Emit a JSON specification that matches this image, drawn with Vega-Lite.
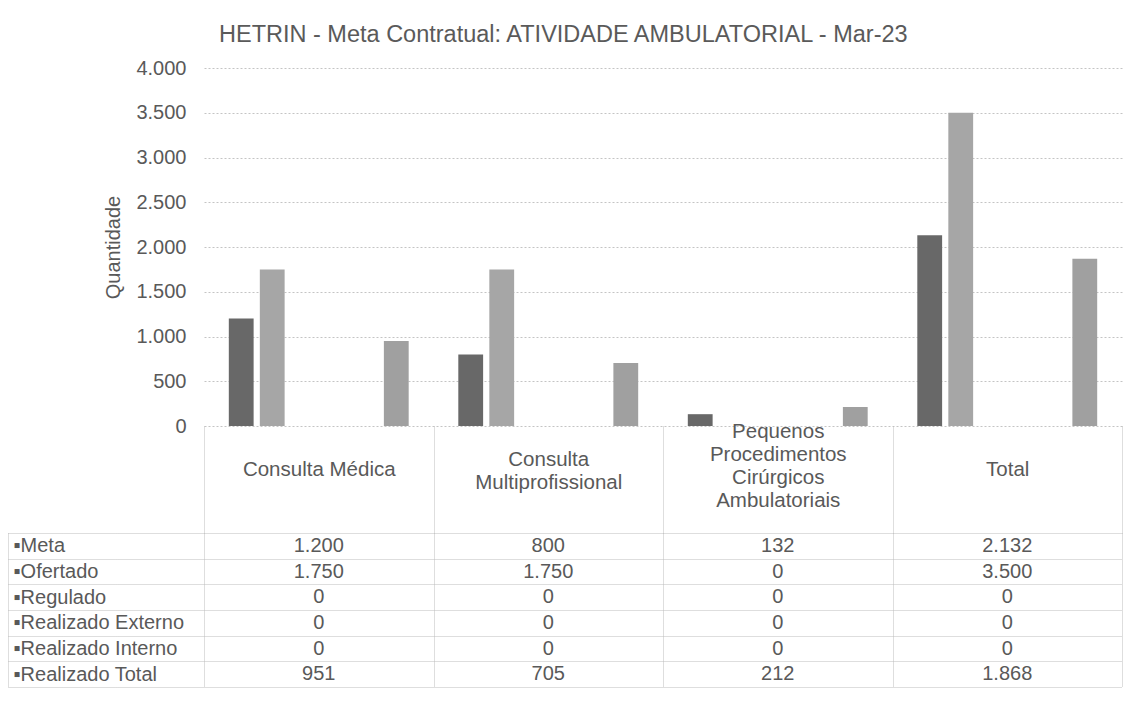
{
  "$schema": "https://vega.github.io/schema/vega-lite/v6.json",
  "padding": {"left": 7, "top": 22, "right": 0, "bottom": 5},
  "autosize": {"type": "pad"},
  "config": {
    "locale": {"number": {"decimal": ",", "thousands": ".", "grouping": [3], "currency": ["R$", ""]}},
    "font": "Liberation Sans",
    "view": {"stroke": null},
    "background": "white"
  },
  "datasets": {
    "d": [
      {"categoria": "Consulta Médica", "serie": "Meta", "valor": 1200},
      {"categoria": "Consulta Médica", "serie": "Ofertado", "valor": 1750},
      {"categoria": "Consulta Médica", "serie": "Regulado", "valor": 0},
      {"categoria": "Consulta Médica", "serie": "Realizado Externo", "valor": 0},
      {"categoria": "Consulta Médica", "serie": "Realizado Interno", "valor": 0},
      {"categoria": "Consulta Médica", "serie": "Realizado Total", "valor": 951},
      {"categoria": "Consulta Multiprofissional", "serie": "Meta", "valor": 800},
      {"categoria": "Consulta Multiprofissional", "serie": "Ofertado", "valor": 1750},
      {"categoria": "Consulta Multiprofissional", "serie": "Regulado", "valor": 0},
      {"categoria": "Consulta Multiprofissional", "serie": "Realizado Externo", "valor": 0},
      {"categoria": "Consulta Multiprofissional", "serie": "Realizado Interno", "valor": 0},
      {"categoria": "Consulta Multiprofissional", "serie": "Realizado Total", "valor": 705},
      {"categoria": "Pequenos Procedimentos Cirúrgicos Ambulatoriais", "serie": "Meta", "valor": 132},
      {"categoria": "Pequenos Procedimentos Cirúrgicos Ambulatoriais", "serie": "Ofertado", "valor": 0},
      {"categoria": "Pequenos Procedimentos Cirúrgicos Ambulatoriais", "serie": "Regulado", "valor": 0},
      {"categoria": "Pequenos Procedimentos Cirúrgicos Ambulatoriais", "serie": "Realizado Externo", "valor": 0},
      {"categoria": "Pequenos Procedimentos Cirúrgicos Ambulatoriais", "serie": "Realizado Interno", "valor": 0},
      {"categoria": "Pequenos Procedimentos Cirúrgicos Ambulatoriais", "serie": "Realizado Total", "valor": 212},
      {"categoria": "Total", "serie": "Meta", "valor": 2132},
      {"categoria": "Total", "serie": "Ofertado", "valor": 3500},
      {"categoria": "Total", "serie": "Regulado", "valor": 0},
      {"categoria": "Total", "serie": "Realizado Externo", "valor": 0},
      {"categoria": "Total", "serie": "Realizado Interno", "valor": 0},
      {"categoria": "Total", "serie": "Realizado Total", "valor": 1868}
    ]
  },
  "bounds": "flush",
  "spacing": 107,
  "vconcat": [
    {
      "width": 918,
      "height": 358,
      "data": {"name": "d"},
      "title": {
        "text": "HETRIN - Meta Contratual: ATIVIDADE AMBULATORIAL - Mar-23",
        "anchor": "start",
        "frame": "group",
        "dx": 15,
        "fontSize": 23.5,
        "fontWeight": "normal",
        "color": "#5a5a5a",
        "offset": 12
      },
      "mark": {"type": "bar"},
      "encoding": {
        "x": {
          "field": "categoria",
          "type": "nominal",
          "sort": ["Consulta Médica", "Consulta Multiprofissional", "Pequenos Procedimentos Cirúrgicos Ambulatoriais", "Total"],
          "scale": {"paddingInner": 0, "paddingOuter": 0},
          "axis": {
            "title": null,
            "orient": "bottom",
            "domain": false,
            "ticks": true,
            "tickSize": 107,
            "tickBand": "extent",
            "tickColor": "#bdbdbd",
            "tickDash": [1, 1],
            "labelAngle": 0,
            "labelPadding": {
              "condition": [
                {"test": "datum.value == 'Consulta Multiprofissional'", "value": -74},
                {"test": "datum.value == 'Pequenos Procedimentos Cirúrgicos Ambulatoriais'", "value": -102}
              ],
              "value": -64
            },
            "labelBaseline": "middle",
            "labelAlign": "center",
            "labelFontSize": 20.5,
            "labelLineHeight": 23,
            "labelColor": "#595959",
            "labelOverlap": false,
            "labelFlush": false,
            "labelLimit": 0,
            "labelExpr": "datum.value == 'Consulta Multiprofissional' ? ['Consulta', 'Multiprofissional'] : datum.value == 'Pequenos Procedimentos Cirúrgicos Ambulatoriais' ? ['Pequenos', 'Procedimentos', 'Cirúrgicos', 'Ambulatoriais'] : datum.value"
          }
        },
        "xOffset": {
          "field": "serie",
          "type": "nominal",
          "sort": ["Meta", "Ofertado", "Regulado", "Realizado Externo", "Realizado Interno", "Realizado Total"],
          "scale": {"paddingInner": 0.2, "paddingOuter": 0.8}
        },
        "y": {
          "field": "valor",
          "type": "quantitative",
          "scale": {"domain": [0, 4000]},
          "axis": {
            "title": "Quantidade",
            "values": [0, 500, 1000, 1500, 2000, 2500, 3000, 3500, 4000],
            "format": ",d",
            "ticks": false,
            "domain": false,
            "labelPadding": 18,
            "labelFontSize": 20,
            "labelColor": "#595959",
            "gridColor": "#c4c4c4",
            "gridDash": [2, 2],
            "titleFontSize": 20,
            "titleFontWeight": "normal",
            "titleColor": "#595959",
            "titlePadding": 12
          }
        },
        "color": {
          "field": "serie",
          "type": "nominal",
          "scale": {
            "domain": ["Meta", "Ofertado", "Regulado", "Realizado Externo", "Realizado Interno", "Realizado Total"],
            "range": ["#686868", "#a6a6a6", "#bdbdbd", "#c8c8c8", "#8a8a8a", "#a0a0a0"]
          },
          "legend": null
        }
      }
    },
    {
      "width": 918,
      "height": 154,
      "data": {"name": "d"},
      "mark": {"type": "text", "fontSize": 20, "color": "#595959"},
      "encoding": {
        "x": {
          "field": "categoria",
          "type": "nominal",
          "sort": ["Consulta Médica", "Consulta Multiprofissional", "Pequenos Procedimentos Cirúrgicos Ambulatoriais", "Total"],
          "scale": {"paddingInner": 0, "paddingOuter": 0},
          "axis": {
            "orient": "top",
            "title": null,
            "labels": false,
            "ticks": false,
            "domain": false,
            "grid": true,
            "tickBand": "extent",
            "gridColor": "#bdbdbd",
            "gridDash": [1, 1]
          }
        },
        "y": {
          "field": "serie",
          "type": "nominal",
          "sort": ["Meta", "Ofertado", "Regulado", "Realizado Externo", "Realizado Interno", "Realizado Total"],
          "scale": {"paddingInner": 0, "paddingOuter": 0},
          "axis": {
            "title": null,
            "offset": 196,
            "tickSize": -196,
            "tickBand": "extent",
            "grid": true,
            "gridColor": "#bdbdbd",
            "gridDash": [1, 1],
            "tickDash": [1, 1],
            "domain": true,
            "domainColor": "#bdbdbd",
            "domainDash": [1, 1],
            "tickColor": "#bdbdbd",
            "labelAlign": "left",
            "labelBaseline": "middle",
            "labelPadding": 191,
            "labelFontSize": 20,
            "labelColor": "#595959",
            "labelLimit": 0,
            "labelExpr": "datum.label ? '▪' + datum.label : ''"
          }
        },
        "text": {"field": "valor", "type": "quantitative", "format": ",d"}
      }
    }
  ]
}
